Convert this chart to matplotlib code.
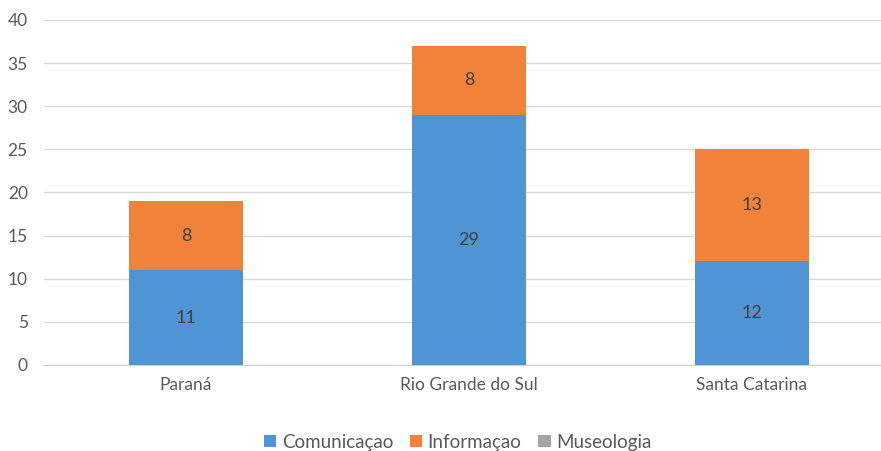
import numpy as np
import matplotlib.pyplot as plt

plt.rcParams['font.family'] = ['Lato', 'DejaVu Sans']

estados = ["Paraná", "Rio Grande do Sul", "Santa Catarina"]
comunicacao = [11, 29, 12]
informacao = [8, 8, 13]
museologia = [0, 0, 0]

cor_com = '#4f94d3'
cor_inf = '#f0823a'
cor_mus = '#a5a5a5'
txt = '#595959'

fig = plt.figure(figsize=(8.81, 4.51), dpi=100)
ax = fig.add_axes([0.0505, 0.1907, 0.9495, 0.765])

x = np.arange(len(estados))
w = 0.4
b1 = ax.bar(x, comunicacao, w, color=cor_com, label='Comunicaçao', zorder=3)
b2 = ax.bar(x, informacao, w, bottom=comunicacao, color=cor_inf, label='Informaçao', zorder=3)
base = np.array(comunicacao) + np.array(informacao)
b3 = ax.bar(x, museologia, w, bottom=base, color=cor_mus, label='Museologia', zorder=3)

for i in range(len(estados)):
    ax.text(x[i], comunicacao[i] / 2, str(comunicacao[i]), ha='center', va='center',
            fontsize=13, color='#404040', zorder=4)
    ax.text(x[i], comunicacao[i] + informacao[i] / 2, str(informacao[i]), ha='center',
            va='center', fontsize=13, color='#404040', zorder=4)

ax.set_ylim(0, 40)
ax.set_xlim(-0.5, 2.456)
ax.set_yticks(range(0, 41, 5))
ax.set_xticks(x)
ax.set_xticklabels(estados)
ax.grid(axis='y', color='#d9d9d9', linewidth=1, zorder=0)
for s in ['top', 'right', 'left']:
    ax.spines[s].set_visible(False)
ax.spines['bottom'].set_color('#d0d0d0')
ax.tick_params(length=0, labelsize=12.5, colors=txt)
ax.tick_params(axis='y', pad=12)
ax.tick_params(axis='x', pad=9)

leg = ax.legend(loc='upper center', bbox_to_anchor=(0.494, -0.15), ncol=3, frameon=False,
                fontsize=13.5, handlelength=0.65, handleheight=0.65, handletextpad=0.3,
                columnspacing=0.9, labelcolor=txt)

fig.savefig('out.png', dpi=100)
